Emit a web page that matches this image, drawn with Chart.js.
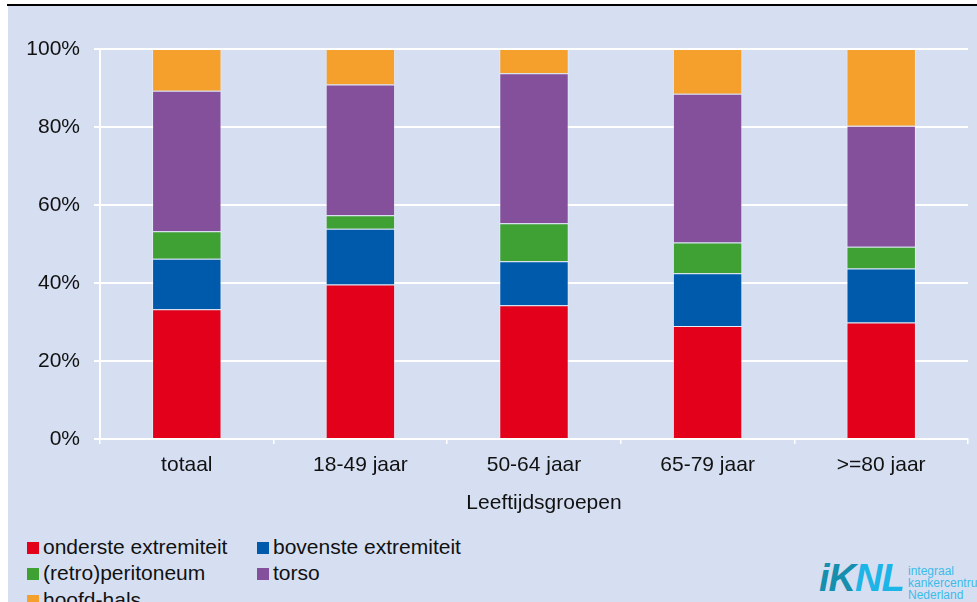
<!DOCTYPE html>
<html>
<head>
<meta charset="utf-8">
<script src="https://cdn.jsdelivr.net/npm/chart.js@4/dist/chart.umd.min.js"></script>
<style>
    html, body { margin: 0; padding: 0; background: #ffffff; }
    body { width: 977px; height: 602px; position: relative; overflow: hidden; font-family: 'Liberation Sans', Arial, sans-serif; }
    .top-rule { position: absolute; left: 7px; top: 4px; width: 970px; height: 2px; background: #000; }
    .panel { position: absolute; left: 8px; top: 6px; width: 969px; height: 596px; background: #d6dff2; }
    #chart-wrap { position: absolute; left: 8px; top: 6px; width: 969px; height: 520px; }
    .legend-item { position: absolute; font-size: 21px; line-height: 22px; color: #111; white-space: nowrap; }
    .legend-box { display: inline-block; width: 12px; height: 12px; margin-right: 4px; vertical-align: baseline; }
    .logo { position: absolute; left: 819px; top: 548px; height: 54px; width: 158px; }
    .logo-mark { position: absolute; left: 0; top: 8px; font: italic bold 38px 'Liberation Sans', Arial, sans-serif; letter-spacing: -1px; line-height: 44px; }
    .logo-mark .k { color: #168fae; }
    .logo-mark .nl { color: #1db4e8; }
    .logo-text { position: absolute; left: 89px; top: 17px; font-size: 12px; line-height: 12px; color: #3dbbe8; }
</style>
</head>
<body>
<div class="top-rule"></div>
<div class="panel"></div>
<div id="chart-wrap"><canvas id="stackChart" width="969" height="520"></canvas></div>
<div id="legend"></div>
<div class="logo">
    <div class="logo-mark"><span class="k">iK</span><span class="nl">NL</span></div>
    <div class="logo-text">integraal<br>kankercentrum<br>Nederland</div>
</div>
<script>
// --- DATA (percentages) ---
const categories = ['totaal', '18-49 jaar', '50-64 jaar', '65-79 jaar', '>=80 jaar'];
const seriesNames = ['onderste extremiteit', 'bovenste extremiteit', '(retro)peritoneum', 'torso', 'hoofd-hals'];
const onderste = [33.3, 39.6, 34.3, 29.0, 29.9];
const bovenste = [12.9, 14.3, 11.3, 13.5, 13.8];
const retro = [7.1, 3.5, 9.7, 7.9, 5.6];
const torso = [36.0, 33.5, 38.5, 38.1, 31.0];
const hoofdHals = [10.7, 9.1, 6.2, 11.5, 19.7];
const yTicks = [0, 20, 40, 60, 80, 100];
const xTitle = 'Leeftijdsgroepen';

const seriesColors = ['#e2001a', '#005aab', '#3fa034', '#84509b', '#f5a02c'];
const seriesValues = [onderste, bovenste, retro, torso, hoofdHals];

document.addEventListener('DOMContentLoaded', () => {

    const font = { family: "'Liberation Sans', Arial, sans-serif", size: 21 };

    const datasets = seriesValues.map((vals, i) => ({
        label: seriesNames[i],
        data: vals,
        backgroundColor: seriesColors[i],
        borderColor: 'rgba(255,255,255,0.35)',
        borderWidth: 1,
        barPercentage: 0.4,
        categoryPercentage: 1.0
    }));

    // axis title sits a bit right of the plot centre in the original
    const axisTitle = {
        id: 'axisTitle',
        afterDraw(chart) {
            const { ctx, chartArea } = chart;
            ctx.save();
            ctx.font = `${font.size}px ${font.family}`;
            ctx.fillStyle = '#111';
            ctx.textAlign = 'center';
            ctx.textBaseline = 'middle';
            ctx.fillText(xTitle, (chartArea.left + chartArea.right) / 2 + 10, chartArea.bottom + 64);
            ctx.restore();
        }
    };

    const ctx = document.getElementById('stackChart').getContext('2d');
    new Chart(ctx, {
        type: 'bar',
        data: { labels: categories, datasets },
        plugins: [axisTitle],
        options: {
            responsive: false,
            animation: false,
            layout: { padding: { top: 43, right: 9, bottom: 0, left: 0 } },
            plugins: { legend: { display: false }, tooltip: { enabled: false } },
            scales: {
                x: {
                    stacked: true,
                    afterFit: (scale) => { scale.height = 87; },
                    grid: { drawOnChartArea: false, color: '#ffffff', lineWidth: 1.5, tickLength: 5 },
                    border: { color: '#ffffff', width: 2 },
                    ticks: { color: '#111', font, padding: 9, maxRotation: 0 }
                },
                y: {
                    stacked: true,
                    min: 0,
                    max: 100,
                    afterFit: (scale) => { scale.width = 92; },
                    afterBuildTicks: (scale) => { scale.ticks = yTicks.map(v => ({ value: v })); },
                    grid: { color: '#ffffff', lineWidth: 2, tickLength: 6 },
                    border: { color: '#ffffff', width: 2 },
                    ticks: { color: '#111', font, padding: 14, callback: v => v + '%' }
                }
            }
        }
    });

    // --- HTML LEGEND (two columns, like the reference) ---
    const legend = document.getElementById('legend');
    seriesNames.forEach((name, i) => {
        const item = document.createElement('div');
        item.className = 'legend-item';
        item.style.left = (i % 2 === 0 ? 27 : 257) + 'px';
        item.style.top = (535.5 + Math.floor(i / 2) * 26.5) + 'px';
        item.innerHTML = `<span class="legend-box" style="background:${seriesColors[i]}"></span>${name}`;
        legend.appendChild(item);
    });
});
</script>
</body>
</html>
